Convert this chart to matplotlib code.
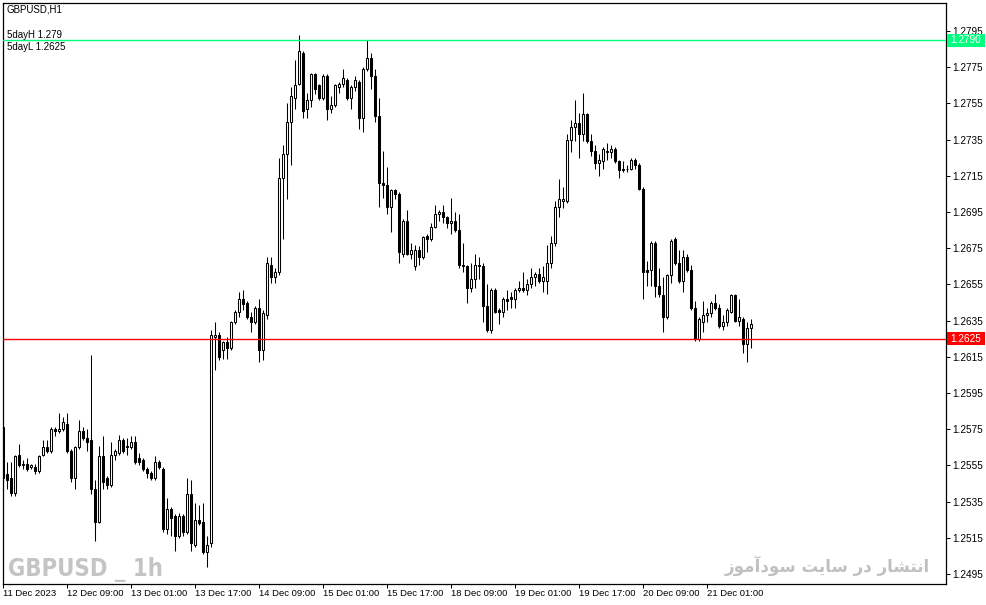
import matplotlib
matplotlib.use("Agg")
import matplotlib.pyplot as plt
import matplotlib.transforms as mtransforms
from matplotlib.patches import Rectangle

# GBPUSD H1 candles, 11 Dec 17:00 .. 21 Dec 12:00
opens = [
    1.2576, 1.2550, 1.2548, 1.2540, 1.2561, 1.2555, 1.2556, 1.2554, 1.2554, 1.2552,
    1.2561, 1.2565, 1.2563, 1.2575, 1.2574, 1.2575, 1.2578, 1.2563, 1.2548, 1.2565,
    1.2574, 1.2570, 1.2569, 1.2542, 1.2524, 1.2560, 1.2548, 1.2544, 1.2561, 1.2562,
    1.2569, 1.2566, 1.2565, 1.2568, 1.2559, 1.2558, 1.2553, 1.2551, 1.2548, 1.2557,
    1.2553, 1.2520, 1.2531, 1.2527, 1.2516, 1.2527, 1.2518, 1.2539, 1.2511, 1.2525,
    1.2524, 1.2507, 1.2512, 1.2626, 1.2627, 1.2619, 1.2623, 1.2620, 1.2634, 1.2640,
    1.2647, 1.2645, 1.2637, 1.2634, 1.2642, 1.2619, 1.2638, 1.2666, 1.2659, 1.2662,
    1.2714, 1.2727, 1.2745, 1.2758, 1.2766, 1.2783, 1.2752, 1.2757, 1.2771, 1.2765,
    1.2758, 1.2770, 1.2752, 1.2754, 1.2764, 1.2766, 1.2768, 1.2758, 1.2764, 1.2767,
    1.2747, 1.2774, 1.2780, 1.2770, 1.2748, 1.2711, 1.2710, 1.2698, 1.2707, 1.2705,
    1.2672, 1.2690, 1.2672, 1.2665, 1.2674, 1.2670, 1.2682, 1.2680, 1.2687, 1.2694,
    1.2695, 1.2692, 1.2689, 1.2690, 1.2685, 1.2666, 1.2665, 1.2653, 1.2658, 1.2666,
    1.2665, 1.2643, 1.2630, 1.2652, 1.2641, 1.2640, 1.2647, 1.2648, 1.2647, 1.2652,
    1.2653, 1.2652, 1.2655, 1.2659, 1.2661, 1.2657, 1.2657, 1.2667, 1.2678, 1.2698,
    1.2701, 1.2701, 1.2735, 1.2742, 1.2744, 1.2738, 1.2749, 1.2734, 1.2729, 1.2722,
    1.2723, 1.2728, 1.2728, 1.2730, 1.2723, 1.2718, 1.2719, 1.2719, 1.2724, 1.2721,
    1.2708, 1.2663, 1.2663, 1.2678, 1.2654, 1.2649, 1.2637, 1.2660, 1.2680, 1.2667,
    1.2657, 1.2670, 1.2663, 1.2642, 1.2625, 1.2634, 1.2638, 1.2639, 1.2645, 1.2642,
    1.2632, 1.2634, 1.2640, 1.2649, 1.2635, 1.2636, 1.2622, 1.2631,
]
highs = [
    1.2579, 1.2557, 1.2557, 1.2561, 1.2567, 1.2558, 1.2559, 1.2556, 1.2556, 1.2561,
    1.2569, 1.2569, 1.2576, 1.2576, 1.2584, 1.2582, 1.2584, 1.2564, 1.2566, 1.2580,
    1.2576, 1.2575, 1.2616, 1.2547, 1.2566, 1.2571, 1.2549, 1.2568, 1.2564, 1.2572,
    1.2570, 1.2570, 1.2571, 1.2571, 1.2562, 1.2559, 1.2554, 1.2552, 1.2560, 1.2558,
    1.2554, 1.2537, 1.2532, 1.2528, 1.2529, 1.2528, 1.2548, 1.2547, 1.2534, 1.2533,
    1.2534, 1.2516, 1.2630, 1.2634, 1.2629, 1.2624, 1.2626, 1.2635, 1.2641, 1.2651,
    1.2652, 1.2646, 1.2640, 1.2643, 1.2647, 1.2641, 1.2670, 1.2670, 1.2664, 1.2725,
    1.2732, 1.2755, 1.2764, 1.2779, 1.2793, 1.2784, 1.2761, 1.2772, 1.2772, 1.2766,
    1.2771, 1.2771, 1.2759, 1.2766, 1.2767, 1.2774, 1.2769, 1.2765, 1.2770, 1.2768,
    1.2775, 1.2790, 1.2783, 1.2774, 1.2758, 1.2729, 1.2720, 1.2708, 1.2708, 1.2706,
    1.2691, 1.2696, 1.2678, 1.2677, 1.2676, 1.2682, 1.2683, 1.2689, 1.2699, 1.2696,
    1.2699, 1.2693, 1.2703, 1.2695, 1.2694, 1.2678, 1.2666, 1.2667, 1.2672, 1.2670,
    1.2667, 1.2655, 1.2653, 1.2653, 1.2642, 1.2648, 1.2652, 1.2651, 1.2653, 1.2657,
    1.2662, 1.2658, 1.2664, 1.2662, 1.2664, 1.2665, 1.2677, 1.2682, 1.2701, 1.2713,
    1.2709, 1.2738, 1.2746, 1.2757, 1.2750, 1.2761, 1.2750, 1.2738, 1.2732, 1.2727,
    1.2731, 1.2733, 1.2732, 1.2731, 1.2724, 1.2723, 1.2721, 1.2725, 1.2725, 1.2722,
    1.2709, 1.2668, 1.2679, 1.2679, 1.2664, 1.2659, 1.2661, 1.2680, 1.2681, 1.2674,
    1.2674, 1.2672, 1.2666, 1.2646, 1.2637, 1.2646, 1.2642, 1.2646, 1.2650, 1.2644,
    1.2638, 1.2642, 1.2650, 1.2650, 1.2647, 1.2637, 1.2634, 1.2636,
]
lows = [
    1.2540, 1.2542, 1.2538, 1.2538, 1.2554, 1.2553, 1.2552, 1.2553, 1.2550, 1.2551,
    1.2560, 1.2562, 1.2562, 1.2571, 1.2573, 1.2574, 1.2562, 1.2546, 1.2542, 1.2564,
    1.2569, 1.2563, 1.2539, 1.2513, 1.2523, 1.2542, 1.2542, 1.2543, 1.2558, 1.2561,
    1.2562, 1.2561, 1.2564, 1.2556, 1.2555, 1.2552, 1.2548, 1.2547, 1.2547, 1.2553,
    1.2518, 1.2517, 1.2516, 1.2508, 1.2515, 1.2516, 1.2517, 1.2508, 1.2510, 1.2522,
    1.2506, 1.2499, 1.2510, 1.2608, 1.2613, 1.2614, 1.2614, 1.2619, 1.2633, 1.2637,
    1.2641, 1.2636, 1.2629, 1.2633, 1.2612, 1.2613, 1.2636, 1.2656, 1.2656, 1.2660,
    1.2680, 1.2702, 1.2721, 1.2752, 1.2765, 1.2747, 1.2747, 1.2753, 1.2760, 1.2757,
    1.2757, 1.2746, 1.2750, 1.2753, 1.2761, 1.2764, 1.2757, 1.2752, 1.2762, 1.2741,
    1.2739, 1.2773, 1.2763, 1.2745, 1.2698, 1.2703, 1.2694, 1.2684, 1.2702, 1.2667,
    1.2670, 1.2671, 1.2669, 1.2663, 1.2666, 1.2669, 1.2673, 1.2679, 1.2686, 1.2690,
    1.2689, 1.2686, 1.2683, 1.2684, 1.2664, 1.2662, 1.2645, 1.2651, 1.2653, 1.2658,
    1.2634, 1.2629, 1.2628, 1.2639, 1.2633, 1.2637, 1.2641, 1.2642, 1.2642, 1.2651,
    1.2651, 1.2649, 1.2653, 1.2654, 1.2656, 1.2651, 1.2650, 1.2664, 1.2676, 1.2692,
    1.2697, 1.2700, 1.2728, 1.2734, 1.2725, 1.2734, 1.2733, 1.2726, 1.2719, 1.2715,
    1.2719, 1.2724, 1.2725, 1.2722, 1.2714, 1.2717, 1.2717, 1.2718, 1.2719, 1.2707,
    1.2647, 1.2654, 1.2654, 1.2648, 1.2648, 1.2629, 1.2636, 1.2656, 1.2666, 1.2656,
    1.2651, 1.2662, 1.2641, 1.2624, 1.2624, 1.2629, 1.2634, 1.2637, 1.2641, 1.2631,
    1.2630, 1.2632, 1.2639, 1.2634, 1.2632, 1.2617, 1.2612, 1.2620,
]
closes = [
    1.2548, 1.2547, 1.2540, 1.2560, 1.2555, 1.2556, 1.2553, 1.2555, 1.2552, 1.2560,
    1.2565, 1.2563, 1.2575, 1.2574, 1.2575, 1.2579, 1.2563, 1.2548, 1.2565, 1.2574,
    1.2570, 1.2568, 1.2542, 1.2524, 1.2560, 1.2546, 1.2544, 1.2561, 1.2563, 1.2569,
    1.2563, 1.2565, 1.2568, 1.2557, 1.2557, 1.2553, 1.2551, 1.2548, 1.2557, 1.2554,
    1.2520, 1.2531, 1.2526, 1.2516, 1.2527, 1.2518, 1.2539, 1.2512, 1.2525, 1.2523,
    1.2507, 1.2511, 1.2627, 1.2627, 1.2615, 1.2623, 1.2620, 1.2634, 1.2640, 1.2647,
    1.2644, 1.2637, 1.2634, 1.2642, 1.2619, 1.2639, 1.2667, 1.2659, 1.2662, 1.2714,
    1.2727, 1.2745, 1.2759, 1.2765, 1.2784, 1.2751, 1.2757, 1.2771, 1.2763, 1.2758,
    1.2770, 1.2752, 1.2754, 1.2765, 1.2766, 1.2769, 1.2758, 1.2764, 1.2768, 1.2747,
    1.2774, 1.2780, 1.2770, 1.2748, 1.2711, 1.2710, 1.2698, 1.2707, 1.2705, 1.2673,
    1.2690, 1.2672, 1.2674, 1.2674, 1.2670, 1.2681, 1.2680, 1.2687, 1.2694, 1.2695,
    1.2692, 1.2689, 1.2690, 1.2685, 1.2666, 1.2665, 1.2653, 1.2658, 1.2666, 1.2665,
    1.2643, 1.2630, 1.2652, 1.2640, 1.2640, 1.2647, 1.2646, 1.2647, 1.2652, 1.2653,
    1.2652, 1.2655, 1.2659, 1.2661, 1.2657, 1.2659, 1.2667, 1.2678, 1.2698, 1.2702,
    1.2702, 1.2735, 1.2742, 1.2744, 1.2738, 1.2749, 1.2734, 1.2729, 1.2722, 1.2724,
    1.2730, 1.2729, 1.2730, 1.2723, 1.2718, 1.2719, 1.2719, 1.2724, 1.2721, 1.2708,
    1.2662, 1.2662, 1.2678, 1.2654, 1.2650, 1.2637, 1.2660, 1.2679, 1.2667, 1.2657,
    1.2670, 1.2663, 1.2642, 1.2625, 1.2636, 1.2638, 1.2639, 1.2645, 1.2642, 1.2632,
    1.2634, 1.2641, 1.2649, 1.2635, 1.2637, 1.2622, 1.2631, 1.2633,
]

time_labels = ["11 Dec 2023", "12 Dec 09:00", "13 Dec 01:00", "13 Dec 17:00",
               "14 Dec 09:00", "15 Dec 01:00", "15 Dec 17:00", "18 Dec 09:00",
               "19 Dec 01:00", "19 Dec 17:00", "20 Dec 09:00", "21 Dec 01:00"]
label_every = 16  # bars between time labels

price_ticks = [1.2495, 1.2515, 1.2535, 1.2555, 1.2575, 1.2595, 1.2615, 1.2635,
               1.2655, 1.2675, 1.2695, 1.2715, 1.2735, 1.2755, 1.2775, 1.2795]

day_high = 1.2790
day_low = 1.2625

watermark_fa = "انتشار در سایت سودآموز"

# arabic presentation forms: isolated, final, initial, medial
FORMS = {
    "ا": ("\uFE8D", "\uFE8E", None, None),
    "آ": ("\uFE81", "\uFE82", None, None),
    "ن": ("\uFEE5", "\uFEE6", "\uFEE7", "\uFEE8"),
    "ت": ("\uFE95", "\uFE96", "\uFE97", "\uFE98"),
    "ش": ("\uFEB5", "\uFEB6", "\uFEB7", "\uFEB8"),
    "ر": ("\uFEAD", "\uFEAE", None, None),
    "د": ("\uFEA9", "\uFEAA", None, None),
    "س": ("\uFEB1", "\uFEB2", "\uFEB3", "\uFEB4"),
    "ی": ("\uFBFC", "\uFBFD", "\uFBFE", "\uFBFF"),
    "و": ("\uFEED", "\uFEEE", None, None),
    "م": ("\uFEE1", "\uFEE2", "\uFEE3", "\uFEE4"),
    "ز": ("\uFEAF", "\uFEB0", None, None),
}


def shape_rtl(text):
    # matplotlib has no arabic shaping, so pick the joined forms by hand
    out = []
    for i, ch in enumerate(text):
        if ch not in FORMS:
            out.append(ch)
            continue
        prev = text[i - 1] if i > 0 else ""
        nxt = text[i + 1] if i + 1 < len(text) else ""
        join_prev = prev in FORMS and FORMS[prev][2] is not None
        join_next = FORMS[ch][2] is not None and nxt in FORMS
        iso, fin, ini, med = FORMS[ch]
        if join_prev and join_next:
            out.append(med)
        elif join_prev:
            out.append(fin)
        elif join_next:
            out.append(ini)
        else:
            out.append(iso)
    return "".join(reversed(out))


W, H = 987, 605
fig = plt.figure(figsize=(W / 100, H / 100), dpi=100)
fig.patch.set_facecolor("white")

left, right, top, bottom = 3, 946, 3, 584
ax = fig.add_axes([left / W, 1 - bottom / H, (right - left) / W, (bottom - top) / H])
ax.set_facecolor("white")

n = len(opens)
xs = list(range(n))

# wicks then bodies
ax.vlines(xs, lows, highs, color="black", linewidth=0.75, zorder=2)
body_bottom = [min(o, c) for o, c in zip(opens, closes)]
body_height = [abs(c - o) for o, c in zip(opens, closes)]
fills = ["white" if c >= o else "black" for o, c in zip(opens, closes)]
ax.bar(xs, body_height, bottom=body_bottom, width=0.5, color=fills,
       edgecolor="black", linewidth=0.75, zorder=3)

ax.axhline(day_high, color="#00FF7F", linewidth=1, zorder=4)
ax.axhline(day_low, color="#FF0000", linewidth=1, zorder=4)

ax.set_xlim(0, (right - left) / 4)
ax.set_ylim(1.24895, 1.28105)

ax.yaxis.tick_right()
ax.set_yticks(price_ticks)
ax.set_yticklabels([f"{p:.4f}" for p in price_ticks])
ax.set_xticks([i * label_every for i in range(len(time_labels))])
ax.set_xticklabels(time_labels, ha="left")
ax.tick_params(axis="both", direction="out", length=3, width=0.75, color="black",
               labelcolor="black")
ax.tick_params(axis="y", pad=1.5, labelsize=7.2)
ax.tick_params(axis="x", pad=0.8, labelsize=6.8)
for lab in ax.get_xticklabels() + ax.get_yticklabels():
    lab.set_fontfamily("Liberation Sans")
for sp in ax.spines.values():
    sp.set_color("black")
    sp.set_linewidth(0.9)

# price tags for the two level lines
trans = mtransforms.blended_transform_factory(ax.transAxes, ax.transData)
ppx = (1.28105 - 1.24895) / (bottom - top)
for level, col in [(day_high, "#00FF7F"), (day_low, "#FF0000")]:
    ax.add_patch(Rectangle((1 + 1 / (right - left), level - 6.5 * ppx), 38 / (right - left),
                           13 * ppx, transform=trans, facecolor=col, edgecolor="none",
                           clip_on=False, zorder=6))
    ax.text(1 + 20 / (right - left), level, f"{level:.4f}", transform=trans,
            ha="center", va="center", color="white", fontsize=7.2,
            family="Liberation Sans", zorder=7, clip_on=False)

# header texts
fig.text(7 / W, 1 - 10 / H, "GBPUSD,H1", fontsize=7, family="Liberation Sans",
         va="center", ha="left")
fig.text(7 / W, 1 - 35 / H, f"5dayH {day_high:g}", fontsize=7, family="Liberation Sans",
         va="center", ha="left", zorder=8)
fig.text(7 / W, 1 - 46.5 / H, f"5dayL {day_low:g}", fontsize=7, family="Liberation Sans",
         va="center", ha="left", zorder=8)

# watermarks
fig.text(8 / W, 1 - 576 / H, "GBPUSD _ 1h", fontsize=17, fontweight="bold",
         fontstretch="condensed", family=["DejaVu Sans"], color="#C4C4C4",
         ha="left", va="baseline")
fig.text(930 / W, 1 - 572 / H, shape_rtl(watermark_fa), fontsize=12, fontweight="bold",
         family=["DejaVu Sans"], color="#C0C0C0", ha="right", va="baseline")

fig.savefig("out.png", dpi=100)
